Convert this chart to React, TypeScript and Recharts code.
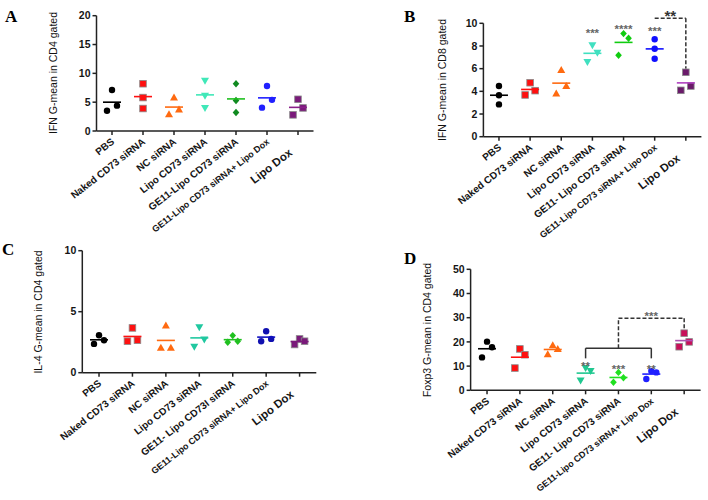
import React from 'react';
import { ScatterChart, Scatter, XAxis, YAxis, ReferenceLine, ReferenceDot } from 'recharts';

const FONT = '"Liberation Sans", Arial, sans-serif';
const YW = 30;
const XH = 20;

// marker kind for each group, same in all four panels
const kinds = ['circle', 'square', 'triangle', 'triangleDown', 'diamond', 'circle', 'square'];

// ---- panel A: IFN in CD4
const labelsA = ['PBS', 'Naked CD73 siRNA', 'NC siRNA', 'Lipo CD73 siRNA', 'GE11-Lipo CD73 siRNA', 'GE11-Lipo CD73 siRNA+ Lipo Dox', 'Lipo Dox'];
const valuesA = [[7.1, 4.4, 3.5], [8.2, 5.8, 3.9], [5.8, 3.75, 2.9], [8.7, 6.1, 4.0], [8.2, 5.3, 3.2], [7.8, 5.4, 4.05], [5.5, 4.0, 2.8]];
const ticksA = [0, 5, 10, 15, 20];
const colorsA = ['#000000', '#ff1010', '#ff6a10', '#40e8b8', '#108a20', '#2020ff', '#7a1a7a'];
const meanColorsA = ['#000000', '#ff1010', '#ff6a10', '#40e8b8', '#20c020', '#2020ff', '#8a208a'];

// ---- panel B: IFN in CD8
const labelsB = ['PBS', 'Naked CD73 siRNA', 'NC siRNA', 'Lipo CD73 siRNA', 'GE11- Lipo CD73 siRNA', 'GE11-Lipo CD73 siRNA+ Lipo Dox', 'Lipo Dox'];
const valuesB = [[4.47, 3.65, 2.85], [4.76, 4.06, 3.68], [5.88, 4.47, 3.82], [8.06, 7.41, 6.59], [9.09, 8.68, 7.18], [8.59, 7.76, 6.88], [5.68, 4.47, 4.09]];
const ticksB = [0, 2, 4, 6, 8, 10];
const colorsB = ['#000000', '#ff1010', '#ff6a10', '#40e0c0', '#10cc10', '#1010ff', '#6a1a6a'];
const meanColorsB = ['#000000', '#ff1010', '#ff6a10', '#40e0c0', '#10cc10', '#1010ff', '#b040c0'];
const starsB = [
  { x: 3, y: 9.4, t: '***' },
  { x: 4, y: 9.76, t: '****' },
  { x: 5, y: 9.56, t: '***' },
  { x: 5.5, y: 10.94, t: '**', big: true },
];
const bracketsB = [
  { x1: 5, y1: 10.45, x2: 6, y2: 10.45, dashed: true },
  { x1: 6, y1: 10.45, x2: 6, y2: 6.0, dashed: true },
];

// ---- panel C: IL-4 in CD4
const labelsC = ['PBS', 'Naked CD73 siRNA', 'NC siRNA', 'Lipo CD73 siRNA', 'GE11- Lipo CD73I siRNA', 'GE11-Lipo CD73 siRNA+ Lipo Dox', 'Lipo Dox'];
const valuesC = [[3.07, 2.66, 2.36], [3.67, 2.66, 2.58], [3.86, 2.04, 2.04], [3.72, 2.72, 2.12], [3.04, 2.58, 2.5], [3.4, 2.77, 2.58], [2.77, 2.58, 2.31]];
const ticksC = [0, 5, 10];
const colorsC = ['#000000', '#ff1010', '#ff6a10', '#20c8a0', '#20c020', '#1010b0', '#7a1a7a'];
const meanColorsC = ['#000000', '#ff1010', '#ff6a10', '#20c8a0', '#20c020', '#1010c0', '#7a1a7a'];

// ---- panel D: Foxp3 in CD4
const labelsD = ['PBS', 'Naked CD73 siRNA', 'NC siRNA', 'Lipo CD73 siRNA', 'GE11- Lipo CD73 siRNA', 'GE11-Lipo CD73 siRNA+ Lipo Dox', 'Lipo Dox'];
const valuesD = [[20.1, 17.8, 13.6], [17.1, 14.7, 9.2], [18.6, 17.1, 14.9], [9.2, 8.0, 4.1], [7.4, 5.2, 3.3], [8.0, 7.4, 4.7], [23.6, 20.0, 18.0]];
const ticksD = [0, 10, 20, 30, 40, 50];
const colorsD = ['#000000', '#ff1010', '#ff6a10', '#20c890', '#20e020', '#2020ff', '#c8105a'];
const meanColorsD = ['#000000', '#ff1010', '#ff6a10', '#20c890', '#20e020', '#2020ff', '#b050b0'];
const starsD = [
  { x: 3, y: 11.2, t: '**' },
  { x: 4, y: 10, t: '***' },
  { x: 5, y: 10, t: '**' },
  { x: 5, y: 31.8, t: '***' },
];
const bracketsD = [
  { x1: 3, y1: 17.4, x2: 5, y2: 17.4, dashed: false },
  { x1: 3, y1: 17.4, x2: 3, y2: 13.2, dashed: false },
  { x1: 5, y1: 17.4, x2: 5, y2: 13.2, dashed: false },
  { x1: 4, y1: 17.4, x2: 4, y2: 29.8, dashed: true },
  { x1: 4, y1: 29.8, x2: 6, y2: 29.8, dashed: true },
  { x1: 6, y1: 29.8, x2: 6, y2: 25.6, dashed: true },
];

const Marker = ({ cx, cy, kind, color }: any) => {
  const edge = kind === 'square' && color !== '#000000' ? '#8a8a8a' : color;
  if (kind === 'circle') return <circle cx={cx} cy={cy} r={3.2} fill={color} />;
  if (kind === 'square') return <rect x={cx - 3.3} y={cy - 3.3} width={6.6} height={6.6} fill={color} stroke={edge} strokeWidth={0.8} />;
  if (kind === 'triangle') return <polygon points={`${cx},${cy - 4} ${cx + 4},${cy + 3} ${cx - 4},${cy + 3}`} fill={color} />;
  if (kind === 'triangleDown') return <polygon points={`${cx},${cy + 4} ${cx + 4},${cy - 3} ${cx - 4},${cy - 3}`} fill={color} />;
  return <polygon points={`${cx},${cy - 3.7} ${cx + 3.3},${cy} ${cx},${cy + 3.7} ${cx - 3.3},${cy}`} fill={color} />;
};

const XTick = ({ x, y, payload, labels }: any) => {
  const i = payload.value;
  const last = i === 6;
  const size = last ? 11.5 : i === 5 ? 9 : 10;
  return (
    <g transform={`translate(${x},${y})`}>
      <text
        transform={`translate(${last ? -5 : 3},${last ? 17 : 6}) rotate(-38)`}
        textAnchor="end"
        fontSize={size}
        fontWeight="bold"
        fontFamily={FONT}
        fill="#151515"
      >
        {labels[i]}
      </text>
    </g>
  );
};

const Panel = (p: any) => {
  const { box, plot, labels, values, colors, meanColors, ticks, yLabel, yLabelPos, letter, letterPos } = p;
  const stars = p.stars || [];
  const brackets = p.brackets || [];
  const yMax = ticks[ticks.length - 1];
  const pxPerUnit = plot.h / yMax;
  const margin = {
    left: plot.x0 - box.left - YW,
    top: plot.y0 - box.top,
    right: box.left + box.width - plot.x0 - plot.w,
    bottom: box.top + box.height - plot.y0 - plot.h - XH,
  };

  // GraphPad-like spreading of crowded points
  const groups = values.map((vals: number[], g: number) => {
    const sorted = [...vals].sort((a, b) => b - a);
    let crowded = false;
    for (let k = 1; k < sorted.length; k++) {
      if ((sorted[k - 1] - sorted[k]) * pxPerUnit < 8.5) crowded = true;
    }
    const shifts = [0, 5, -5];
    return sorted.map((v, k) => ({ x: g, y: v, dx: crowded ? shifts[k] : 0 }));
  });
  const means = values.map((vals: number[], g: number) => ({
    x: g,
    y: vals.reduce((s, v) => s + v, 0) / vals.length,
    g,
  }));

  return (
    <>
      <div style={{ position: 'absolute', left: box.left, top: box.top }}>
        <ScatterChart width={box.width} height={box.height} margin={margin}>
          <XAxis
            type="number"
            dataKey="x"
            domain={[-0.5, 6.5]}
            ticks={[0, 1, 2, 3, 4, 5, 6]}
            interval={0}
            height={XH}
            tickSize={4}
            stroke="#222"
            strokeWidth={1.5}
            tick={<XTick labels={labels} />}
          />
          <YAxis
            type="number"
            dataKey="y"
            domain={[0, yMax]}
            ticks={ticks}
            interval={0}
            width={YW}
            tickSize={4}
            stroke="#222"
            strokeWidth={1.5}
            tick={{ fontSize: 10.5, fontWeight: 'bold', fontFamily: FONT, fill: '#151515' }}
          />
          {brackets.map((b: any, i: number) => (
            <ReferenceLine
              key={'b' + i}
              segment={[{ x: b.x1, y: b.y1 }, { x: b.x2, y: b.y2 }]}
              stroke="#333"
              strokeWidth={1.5}
              strokeDasharray={b.dashed ? '4 2' : undefined}
              ifOverflow="visible"
            />
          ))}
          {groups.map((pts: any[], g: number) => (
            <Scatter
              key={'g' + g}
              data={pts}
              isAnimationActive={false}
              shape={(s: any) => <Marker cx={s.cx + s.payload.dx} cy={s.cy} kind={kinds[g]} color={colors[g]} />}
            />
          ))}
          <Scatter
            data={means}
            isAnimationActive={false}
            shape={(s: any) => (
              <line x1={s.cx - 9} x2={s.cx + 9} y1={s.cy} y2={s.cy} stroke={meanColors[s.payload.g]} strokeWidth={1.6} />
            )}
          />
          {stars.map((st: any, i: number) => (
            <ReferenceDot
              key={'s' + i}
              x={st.x}
              y={st.y}
              ifOverflow="visible"
              shape={(s: any) => {
                const fs = st.big ? 15 : 11.5;
                return (
                  <text x={s.cx} y={s.cy + fs * 0.58} textAnchor="middle" fontSize={fs} fontFamily={FONT} fontWeight="bold" fill={st.big ? '#333' : '#666'}>
                    {st.t}
                  </text>
                );
              }}
            />
          ))}
        </ScatterChart>
      </div>
      <div
        style={{
          position: 'absolute',
          left: yLabelPos[0],
          top: yLabelPos[1],
          transform: 'translate(-50%, -50%) rotate(-90deg)',
          whiteSpace: 'nowrap',
          fontFamily: FONT,
          fontSize: 10.5,
          color: '#111',
        }}
      >
        {yLabel}
      </div>
      <div
        style={{
          position: 'absolute',
          left: letterPos[0],
          top: letterPos[1],
          fontFamily: '"Liberation Serif", "Times New Roman", serif',
          fontWeight: 'bold',
          fontSize: 17,
          lineHeight: '17px',
          color: '#000',
        }}
      >
        {letter}
      </div>
    </>
  );
};

const App = () => (
  <div style={{ position: 'absolute', left: 0, top: 0, width: 708, height: 500, background: '#fff', overflow: 'hidden' }}>
    <Panel
      box={{ left: 0, top: 0, width: 354, height: 250 }}
      plot={{ x0: 96.5, y0: 15.7, w: 217, h: 115.3 }}
      labels={labelsA}
      values={valuesA}
      colors={colorsA}
      meanColors={meanColorsA}
      ticks={ticksA}
      yLabel="IFN G-mean in CD4 gated"
      yLabelPos={[53, 73]}
      letter="A"
      letterPos={[5, 8]}
    />
    <Panel
      box={{ left: 354, top: 0, width: 354, height: 250 }}
      plot={{ x0: 483.4, y0: 23.3, w: 218, h: 113.4 }}
      labels={labelsB}
      values={valuesB}
      colors={colorsB}
      meanColors={meanColorsB}
      ticks={ticksB}
      yLabel="IFN G-mean in CD8 gated"
      yLabelPos={[442, 80]}
      letter="B"
      letterPos={[404, 8]}
      stars={starsB}
      brackets={bracketsB}
    />
    <Panel
      box={{ left: 0, top: 240, width: 354, height: 260 }}
      plot={{ x0: 82.3, y0: 250.7, w: 234, h: 122 }}
      labels={labelsC}
      values={valuesC}
      colors={colorsC}
      meanColors={meanColorsC}
      ticks={ticksC}
      yLabel="IL-4 G-mean in CD4 gated"
      yLabelPos={[38, 312]}
      letter="C"
      letterPos={[2, 241]}
    />
    <Panel
      box={{ left: 354, top: 240, width: 354, height: 260 }}
      plot={{ x0: 470.6, y0: 269.3, w: 230, h: 121 }}
      labels={labelsD}
      values={valuesD}
      colors={colorsD}
      meanColors={meanColorsD}
      ticks={ticksD}
      yLabel="Foxp3 G-mean in CD4 gated"
      yLabelPos={[427, 330]}
      letter="D"
      letterPos={[404, 250]}
      stars={starsD}
      brackets={bracketsD}
    />
  </div>
);

export default App;
